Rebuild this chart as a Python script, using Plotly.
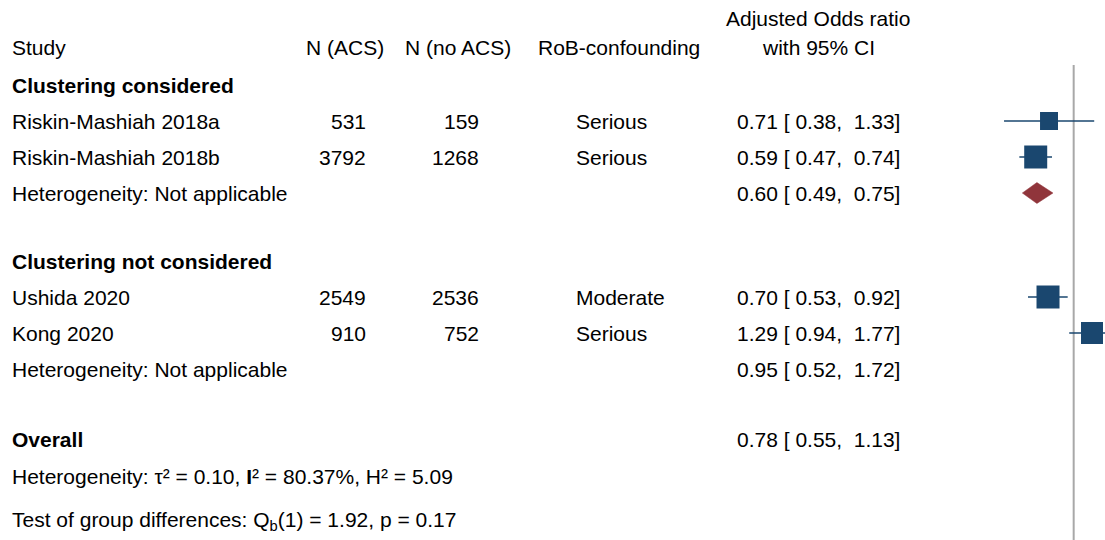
import plotly.graph_objects as go

# ---------------- data ----------------
studies = ["Riskin-Mashiah 2018a", "Riskin-Mashiah 2018b", "Ushida 2020", "Kong 2020"]
n_acs = [531, 3792, 2549, 910]
n_no_acs = [159, 1268, 2536, 752]
rob = ["Serious", "Serious", "Moderate", "Serious"]
or_est = [0.71, 0.59, 0.70, 1.29]
or_lo = [0.38, 0.47, 0.53, 0.94]
or_hi = [1.33, 0.74, 0.92, 1.77]

groups = ["Clustering considered", "Clustering not considered"]
group_est = [0.60, 0.95]
group_lo = [0.49, 0.52]
group_hi = [0.75, 1.72]
group_het = ["Heterogeneity: Not applicable", "Heterogeneity: Not applicable"]

overall_est, overall_lo, overall_hi = 0.78, 0.55, 1.13
overall_het = "Heterogeneity: τ² = 0.10, <b>I</b>² = 80.37%, H² = 5.09"
group_test = "Test of group differences: Q<sub>b</sub>(1) = 1.92, p = 0.17"

# ---------------- layout (pixel rows) ----------------
W, H = 1105, 540
FONT = "Liberation Sans, Arial, Helvetica, sans-serif"
FS = 21
NAVY = "#1a476f"
MAROON = "#90353b"

y_header = 47
y_group = [85, 261]
y_study = [121, 157, 297, 333]
y_ghet = [193, 369]
y_overall = 439
y_ohet = 476
y_test = 521
sq_size = [18, 23, 23, 22]

fig = go.Figure()

# reference line at OR = 1
fig.add_trace(go.Scatter(x=[1, 1], y=[65, H], mode="lines",
                         line=dict(color="#a8a8a8", width=2), hoverinfo="skip"))

# CIs and squares
for i in range(len(studies)):
    fig.add_trace(go.Scatter(x=[or_lo[i], or_hi[i]], y=[y_study[i], y_study[i]],
                             mode="lines", line=dict(color=NAVY, width=1.6),
                             hoverinfo="skip"))
    fig.add_trace(go.Scatter(x=[or_est[i]], y=[y_study[i]], mode="markers",
                             marker=dict(symbol="square", size=sq_size[i], color=NAVY),
                             hoverinfo="skip"))

# subgroup diamond (only first is visible in the reference)
dh = 10.5
g = 0
fig.add_trace(go.Scatter(
    x=[group_lo[g], group_est[g], group_hi[g], group_est[g], group_lo[g]],
    y=[y_ghet[g], y_ghet[g] - dh, y_ghet[g], y_ghet[g] + dh, y_ghet[g]],
    mode="lines", fill="toself", fillcolor=MAROON,
    line=dict(color=MAROON, width=0.5), hoverinfo="skip"))

ann = []


def txt(x, y, s, anchor="left", bold=False):
    ann.append(dict(x=x / W, y=y, xref="paper", yref="y", text=(f"<b>{s}</b>" if bold else s),
                    showarrow=False, xanchor=anchor, yanchor="middle",
                    font=dict(family=FONT, size=FS, color="black")))


def fmt_ci(e, l, h):
    return f"{e:.2f} [ {l:.2f},  {h:.2f}]"


# headers
txt(10, y_header, "Study")
txt(386, y_header, "N (ACS)", "right")
txt(513, y_header, "N (no ACS)", "right")
txt(536, y_header, "RoB-confounding")
txt(818, 18, "Adjusted Odds ratio", "center")
txt(818, y_header, "with 95% CI", "center")

for g in range(len(groups)):
    txt(10, y_group[g], groups[g], bold=True)
    txt(10, y_ghet[g], group_het[g])
    txt(735, y_ghet[g], fmt_ci(group_est[g], group_lo[g], group_hi[g]))

for i in range(len(studies)):
    txt(10, y_study[i], studies[i])
    txt(368, y_study[i], str(n_acs[i]), "right")
    txt(481, y_study[i], str(n_no_acs[i]), "right")
    txt(574, y_study[i], rob[i])
    txt(735, y_study[i], fmt_ci(or_est[i], or_lo[i], or_hi[i]))

txt(10, y_overall, "Overall", bold=True)
txt(735, y_overall, fmt_ci(overall_est, overall_lo, overall_hi))
txt(10, y_ohet, overall_het)
txt(10, y_test, group_test)

fig.update_layout(
    width=W, height=H, margin=dict(l=0, r=0, t=0, b=0),
    paper_bgcolor="white", plot_bgcolor="white", showlegend=False,
    xaxis=dict(type="log", range=[-0.8112, 0.189], domain=[0.85, 1.0], visible=False),
    yaxis=dict(range=[H, 0], domain=[0, 1], visible=False),
    annotations=ann,
)

fig.write_html("out.html",
               config={"displayModeBar": False, "staticPlot": True},
               post_script="document.body.style.margin='0';document.body.style.overflow='hidden';")
